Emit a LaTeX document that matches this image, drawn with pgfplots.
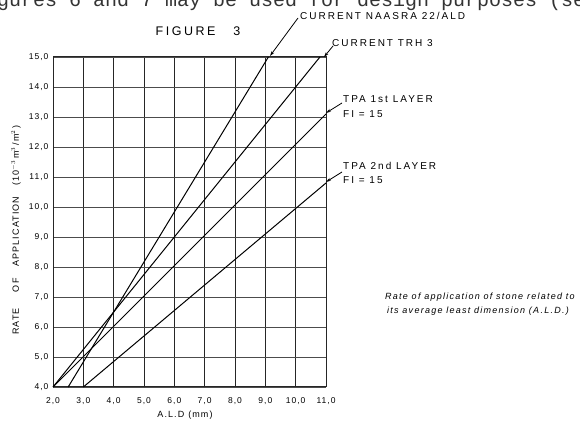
\documentclass[border=0pt]{standalone}
\usepackage{fontspec}
\setmainfont{Liberation Sans}
\newfontfamily\lett[LetterSpace=12]{Liberation Sans}
\newfontfamily\lettb[LetterSpace=20]{Liberation Sans}
\newfontfamily\lettit[LetterSpace=14]{Liberation Sans Italic}
\newfontfamily\mono{Liberation Mono}
\usepackage{pgfplots}
\pgfplotsset{compat=1.18}
\usetikzlibrary{arrows.meta}
\begin{document}
\begin{tikzpicture}[x=1pt,y=1pt]
\useasboundingbox (0pt,0pt) rectangle (580pt,422pt);
% cropped line of page text above the figure
\node[anchor=base west, inner sep=0, font=\mono\fontsize{20}{20}\selectfont, text=black!80] at (-27pt,415pt) {Figures 6 and 7 may be used for design purposes (see};
\begin{axis}[
  at={(53pt,35pt)}, anchor=south west, scale only axis,
  width=273pt, height=330pt,
  xmin=2, xmax=11, ymin=4, ymax=15,
  xtick={2,...,11}, ytick={4,...,15},
  grid=major,
  x grid style={black!85, line width=0.9pt},
  y grid style={black!70, line width=0.8pt},
  axis line style={black!85, line width=1pt},
  major tick length=0pt,
  tick label style={font=\lett\fontsize{8.5}{9}\selectfont,
    /pgf/number format/fixed, /pgf/number format/fixed zerofill,
    /pgf/number format/precision=1, /pgf/number format/use comma,
    /pgf/number format/assume math mode=true},
  xticklabel style={yshift=-7pt},
  yticklabel style={xshift=-1pt},
  clip=false,
]
\addplot[black, line width=1pt] coordinates {(2.5,4) (9.1,15)};
\addplot[black, line width=1pt] coordinates {(2,4) (10.8,15)};
\addplot[black, line width=1pt] coordinates {(2,4) (11,13.1)};
\addplot[black, line width=1pt] coordinates {(3,4) (11,10.8)};
\end{axis}
% leaders
\draw[line width=0.8pt, -{Stealth[length=5pt,width=3pt]}] (298pt,404pt) -- (270pt,366pt);
\draw[line width=0.8pt, -{Stealth[length=5pt,width=3pt]}] (333pt,376pt) -- (324pt,365pt);
\draw[line width=0.8pt, -{Stealth[length=5pt,width=3pt]}] (342pt,319pt) -- (326pt,309pt);
\draw[line width=0.8pt, -{Stealth[length=5pt,width=3pt]}] (342pt,250pt) -- (326pt,240pt);
% labels
\begin{scope}[every node/.style={inner sep=0, font=\lettb\fontsize{10}{11}\selectfont}]
\node[anchor=west] at (300pt,406pt) {CURRENT NAASRA 22/ALD};
\node[anchor=west] at (332pt,379pt) {CURRENT TRH 3};
\node[anchor=west] at (343pt,323pt) {TPA 1st LAYER};
\node[anchor=west] at (343pt,308pt) {FI = 15};
\node[anchor=west] at (343pt,256pt) {TPA 2nd LAYER};
\node[anchor=west] at (343pt,242pt) {FI = 15};
\node[font=\lettb\fontsize{12.5}{13}\selectfont] at (198pt,391pt) {FIGURE\hspace{18pt}3};
\node[rotate=90, font=\lett\fontsize{9}{10}\selectfont] at (16pt,192pt) {RATE\hspace{16pt}OF\hspace{12pt}APPLICATION\hspace{11pt}(\,10$^{-3}$\,m$^{3}$\,/\,m$^{2}$\,)};
\node[font=\lett\fontsize{9}{10}\selectfont] at (185pt,7pt) {A.L.D\hspace{4pt}(mm)};
\node[anchor=west, font=\lettit\fontsize{9}{10}\selectfont] at (385pt,125pt) {Rate of application of stone related to};
\node[anchor=west, font=\lettit\fontsize{9}{10}\selectfont] at (387pt,111pt) {its average least dimension (A.L.D.)};
\end{scope}
\end{tikzpicture}
\end{document}
